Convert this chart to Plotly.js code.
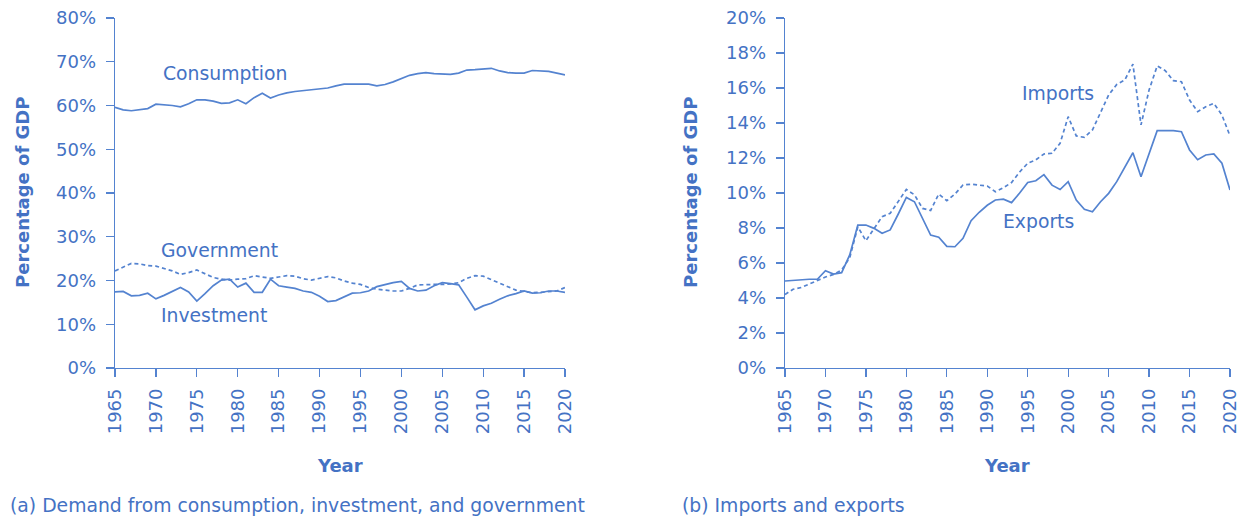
<!DOCTYPE html>
<html><head><meta charset="utf-8">
<script src="https://cdn.plot.ly/plotly-3.0.1.min.js"></script>
<style>html,body{margin:0;padding:0;background:#fff}#chart{width:1239px;height:518px}</style>
</head><body><div id="chart"></div>
<script>
const years = [];
for (let y = 1965; y <= 2020; y++) years.push(y);

const consumption = [59.6,59.0,58.8,59.1,59.3,60.3,60.2,60.0,59.7,60.4,61.3,61.3,61.0,60.5,60.6,61.3,60.4,61.8,62.8,61.7,62.4,62.9,63.2,63.4,63.5,63.7,64.0,64.5,64.9,64.9,64.9,64.9,64.5,64.8,65.4,66.2,66.9,67.3,67.5,67.3,67.2,67.1,67.4,68.1,68.2,68.3,68.5,67.9,67.5,67.4,67.4,68.0,67.9,67.8,67.4,67.0];
const government = [22.2,23.0,23.9,23.8,23.4,23.3,22.8,22.2,21.4,21.8,22.4,21.6,20.7,20.3,20.1,20.3,20.4,21.1,20.8,20.5,20.8,21.1,21.0,20.4,20.1,20.5,20.9,20.6,19.9,19.4,19.1,18.4,18.0,17.8,17.6,17.6,18.2,19.0,19.1,19.1,19.1,19.2,19.5,20.5,21.1,21.0,20.2,19.4,18.5,17.8,17.5,17.2,17.3,17.4,17.6,18.4];
const investment = [17.4,17.5,16.5,16.6,17.1,15.8,16.6,17.5,18.4,17.4,15.3,17.0,18.8,20.1,20.3,18.5,19.4,17.3,17.3,20.3,18.8,18.5,18.2,17.6,17.3,16.4,15.2,15.4,16.2,17.1,17.2,17.6,18.6,19.1,19.5,19.8,18.2,17.6,17.8,18.8,19.5,19.3,19.0,16.2,13.3,14.2,14.8,15.7,16.5,17.0,17.6,17.1,17.2,17.6,17.6,17.3];
const imports = [4.2,4.5,4.6,4.8,5.0,5.2,5.35,5.6,6.3,8.07,7.27,7.98,8.65,8.84,9.5,10.2,9.9,9.12,9.0,9.94,9.56,9.94,10.46,10.5,10.45,10.4,10.07,10.3,10.6,11.2,11.7,11.89,12.23,12.27,12.84,14.36,13.26,13.18,13.6,14.6,15.6,16.2,16.46,17.37,13.89,15.89,17.26,16.99,16.42,16.36,15.31,14.65,14.93,15.12,14.46,13.26];
const exports_ = [4.97,5.0,5.07,5.07,5.07,5.56,5.37,5.45,6.46,8.17,8.17,7.98,7.7,7.89,8.8,9.75,9.5,8.5,7.6,7.47,6.95,6.93,7.41,8.42,8.9,9.3,9.6,9.65,9.45,10.0,10.6,10.7,11.05,10.45,10.2,10.65,9.6,9.07,8.93,9.5,9.98,10.65,11.5,12.3,10.93,12.27,13.56,13.56,13.56,13.5,12.46,11.9,12.17,12.23,11.7,10.17];

const leftTicks = [0,10,20,30,40,50,60,70,80];
const leftTickText = leftTicks.map(v => v + '%');
const rightTicks = [0,2,4,6,8,10,12,14,16,18,20];
const rightTickText = rightTicks.map(v => v + '%');
const xTicks = [1965,1970,1975,1980,1985,1990,1995,2000,2005,2010,2015,2020];
const xTickText = xTicks.map(String);

const BLUE = '#4472c4';
const LINE = '#5483d0';
const FONT = 'DejaVu Sans, sans-serif';
const FS = 18;
const FS_TEXT = 18.8;

function tr(y, xa, ya, dash) {
  return {x: years, y: y, xaxis: xa, yaxis: ya, mode: 'lines', type: 'scatter',
    line: {color: LINE, width: 1.7, dash: dash || 'solid'}, hoverinfo: 'skip', showlegend: false};
}
const data = [
  tr(consumption, 'x', 'y'),
  tr(government, 'x', 'y', '4px,3px'),
  tr(investment, 'x', 'y'),
  tr(imports, 'x2', 'y2', '4px,3px'),
  tr(exports_, 'x2', 'y2')
];

const xCommon = {range: [1965, 2020], tickvals: xTicks, ticktext: xTickText, tickangle: -90,
  ticks: 'outside', ticklen: 8, tickwidth: 1.3, tickcolor: LINE, showline: true, linecolor: LINE, linewidth: 1.3,
  showgrid: false, zeroline: false, ticklabelstandoff: 4, ticklabeloverflow: 'allow',
  tickfont: {family: FONT, size: FS, color: BLUE}};
const yCommon = {ticks: 'outside', ticklen: 8, tickwidth: 1.3, tickcolor: LINE, showline: true, linecolor: LINE, linewidth: 1.3,
  showgrid: false, zeroline: false, ticklabelstandoff: 6, ticklabeloverflow: 'allow',
  tickfont: {family: FONT, size: FS, color: BLUE}};

const yb = 150/518, yt = 500/518;
function ann(text, x, y, xref, yref, extra, size) {
  return Object.assign({text: text, x: x, y: y, xref: xref, yref: yref, showarrow: false,
    font: {family: FONT, size: size || FS_TEXT, color: BLUE}}, extra || {});
}
const layout = {
  width: 1239, height: 518,
  margin: {l: 0, r: 0, t: 0, b: 0},
  paper_bgcolor: '#fff', plot_bgcolor: '#fff',
  xaxis: Object.assign({}, xCommon, {domain: [115/1239, 565/1239], anchor: 'y'}),
  yaxis: Object.assign({}, yCommon, {domain: [yb, yt], range: [0, 80], tickvals: leftTicks, ticktext: leftTickText, anchor: 'x'}),
  xaxis2: Object.assign({}, xCommon, {domain: [785/1239, 1230/1239], anchor: 'y2'}),
  yaxis2: Object.assign({}, yCommon, {domain: [yb, yt], range: [0, 20], tickvals: rightTicks, ticktext: rightTickText, anchor: 'x2'}),
  annotations: [
    ann('Consumption', 1978.4, 67.4, 'x', 'y'),
    ann('Government', 1977.8, 26.8, 'x', 'y'),
    ann('Investment', 1977.1, 11.9, 'x', 'y'),
    ann('Imports', 1998.7, 15.7, 'x2', 'y2'),
    ann('Exports', 1996.3, 8.4, 'x2', 'y2'),
    ann('<b>Percentage of GDP</b>', 22/1239, 1 - 193/518, 'paper', 'paper', {textangle: -90, xanchor: 'center', yanchor: 'middle'}, FS),
    ann('<b>Percentage of GDP</b>', 690/1239, 1 - 193/518, 'paper', 'paper', {textangle: -90, xanchor: 'center', yanchor: 'middle'}, FS),
    ann('<b>Year</b>', 340/1239, 1 - 465/518, 'paper', 'paper', {xanchor: 'center', yanchor: 'middle'}, FS),
    ann('<b>Year</b>', 1007/1239, 1 - 465/518, 'paper', 'paper', {xanchor: 'center', yanchor: 'middle'}, FS),
    ann('(a) Demand from consumption, investment, and government', 8/1239, 1 - 505/518, 'paper', 'paper', {xanchor: 'left', yanchor: 'middle'}),
    ann('(b) Imports and exports', 680/1239, 1 - 505/518, 'paper', 'paper', {xanchor: 'left', yanchor: 'middle'})
  ]
};
Plotly.newPlot('chart', data, layout, {displayModeBar: false, staticPlot: true});
</script></body></html>
